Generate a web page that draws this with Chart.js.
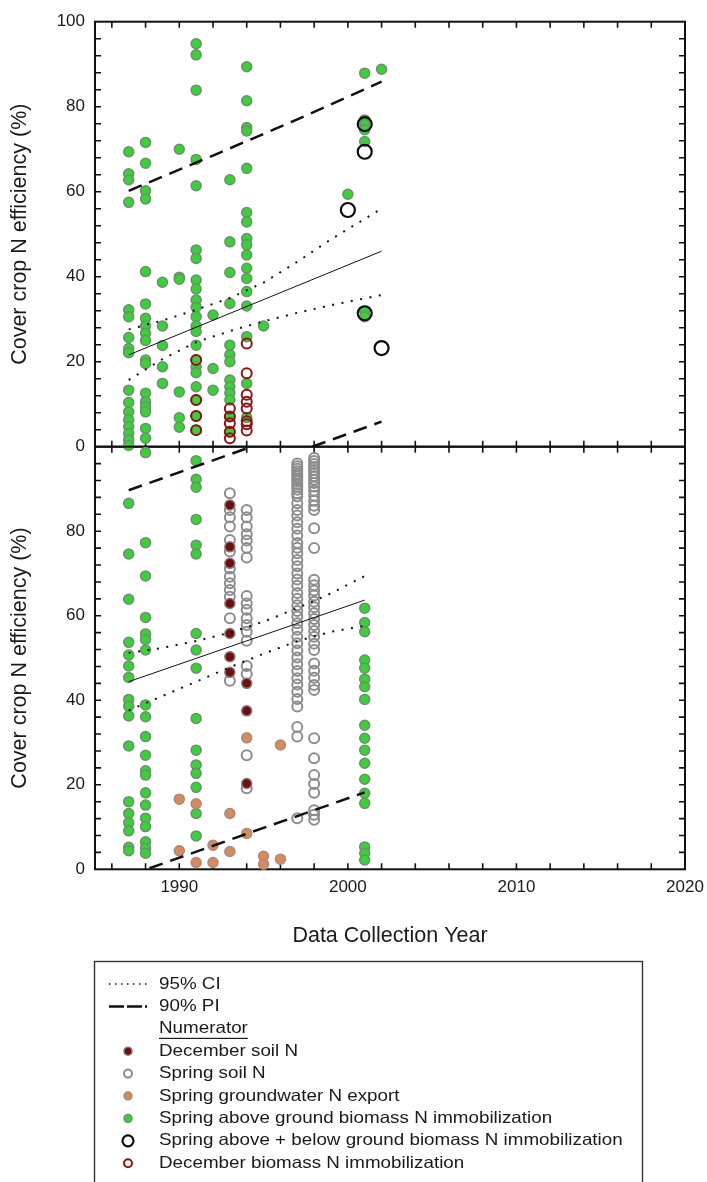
<!DOCTYPE html>
<html>
<head>
<meta charset="utf-8">
<title>Cover crop N efficiency</title>
<script src="https://cdn.jsdelivr.net/npm/chart.js@4.4.0/dist/chart.umd.min.js"></script>
<style>
  html, body { margin: 0; padding: 0; background: #ffffff; }
  #wrap { position: relative; width: 707px; height: 1182px; }
  #wrap canvas { position: absolute; left: 0; top: 0; }
</style>
</head>
<body>
<div id="wrap">
  <canvas id="upper" width="707" height="1182"></canvas>
  <canvas id="lower" width="707" height="1182"></canvas>
</div>
<script>
// ---------- axis ticks ----------
const yearLabels = [1990, 2000, 2010, 2020];
const yearTicks = [1986, 1988, 1990, 1992, 1994, 1996, 1998, 2000, 2002, 2004, 2006, 2008, 2010, 2012, 2014, 2016, 2018];
const valueTicks = [4, 8, 12, 16, 20, 24, 28, 32, 36, 40, 44, 48, 52, 56, 60, 64, 68, 72, 76, 80, 84, 88, 92, 96];

// ---------- upper panel: observations [year, values] ----------
const upAboveGround = [
  [1987, [69.4, 64.2, 62.8, 57.5, 32.2, 30.6, 25.7, 23.1, 22.1, 13.3, 10.4, 8.2, 6.3, 4.7, 3.1, 1.6, 0.3]],
  [1988, [71.6, 66.7, 60.2, 58.3, 41.2, 33.6, 30.2, 28.4, 26.7, 25.0, 20.4, 19.6, 12.6, 10.6, 9.4, 8.2, 4.3, 2.0]],
  [1989, [38.7, 28.4, 23.8, 18.8, 14.9]],
  [1990, [70.0, 39.9, 39.4, 12.9, 6.8, 4.6]],
  [1991, [94.8, 92.2, 83.9, 67.6, 61.4, 46.3, 44.3, 39.2, 37.1, 34.5, 32.8, 30.6, 28.4, 27.1, 23.9, 20.4, 18.8, 17.4, 14.1, 11.0, 7.2, 3.9]],
  [1992, [31.0, 18.4, 13.3]],
  [1993, [62.8, 48.2, 41.0, 33.7, 23.9, 21.6, 20.0, 15.7, 14.1, 12.6, 11.0, 7.1, 3.5]],
  [1994, [89.4, 81.4, 75.1, 74.3, 65.5, 55.1, 52.9, 49.0, 47.5, 45.1, 42.0, 39.6, 36.5, 33.1, 25.9, 14.9, 6.9]],
  [1995, [28.4]],
  [2000, [59.4]],
  [2001, [87.9, 76.9, 75.9, 74.6, 71.8, 31.9, 30.6]],
  [2002, [88.8]]
];
const upAboveBelow = [[2000, [55.7]], [2001, [75.9, 69.4, 31.4]], [2002, [23.2]]];
const upDecBiomass = [
  [1991, [20.4, 11.0, 7.2, 3.9]],
  [1993, [9.0, 7.1, 5.5, 3.5, 2.0]],
  [1994, [24.3, 17.3, 12.2, 10.6, 9.0, 6.0, 5.3, 3.8]]
];
// upper panel regression, 95% CI and 90% PI
const upFit = [[1987, 21.6], [2002, 46.0]];
const upCIHigh = [[1987, 27.6], [1989, 29.7], [1991, 32.2], [1993, 35.0], [1995, 38.6], [1997, 43.5], [1999, 48.8], [2002, 56.0]];
const upCILow = [[1987, 15.7], [1989, 20.6], [1991, 24.6], [1993, 27.2], [1995, 29.5], [1997, 31.5], [1999, 33.3], [2002, 35.7]];
const upPIHigh = [[1987, 60.2], [1992, 68.5], [1997, 77.0], [2002, 85.9]];
const upPILow = [[1987, -17.5], [1992, -9.5], [1997, -1.3], [2002, 5.9]];

// ---------- lower panel: observations [year, values] ----------
const loAboveGround = [
  [1987, [86.6, 74.6, 63.9, 53.7, 50.7, 48.1, 45.4, 40.2, 38.6, 36.3, 29.2, 16.0, 13.2, 11.0, 9.1, 5.2, 4.4]],
  [1988, [98.6, 77.3, 69.4, 59.6, 55.7, 54.4, 51.9, 38.9, 36.1, 31.4, 27.0, 23.3, 22.3, 18.1, 15.2, 12.1, 10.1, 6.5, 5.0, 3.8]],
  [1991, [96.7, 92.3, 90.4, 82.8, 76.7, 74.6, 55.8, 51.9, 47.6, 35.7, 28.2, 24.7, 22.7, 19.4, 13.2, 7.9]],
  [2001, [61.8, 58.4, 56.2, 49.5, 47.6, 45.0, 43.2, 40.2, 34.1, 31.0, 28.2, 25.1, 21.3, 18.0, 15.6, 5.3, 3.8, 2.2]]
];
const loGroundwater = [
  [1990, [16.6, 4.4]], [1991, [15.5, 1.6]], [1992, [5.7, 1.6]], [1993, [13.2, 4.2]],
  [1994, [31.1, 8.5]], [1995, [3.1, 1.2]], [1996, [29.4, 2.4]]
];
const loDecSoil = [
  [1993, [86.2, 76.3, 72.4, 62.9, 55.8, 50.3, 46.6]],
  [1994, [44.0, 37.5, 20.3]]
];
const loSpringSoil = [
  [1993, [89.0, 85.0, 83.3, 81.1, 77.9, 75.2, 71.2, 69.2, 67.7, 66.1, 64.5, 59.4, 44.6]],
  [1994, [85.0, 83.3, 81.1, 79.3, 77.8, 76.0, 73.8, 64.7, 62.9, 61.4, 59.4, 57.8, 56.2, 54.1, 48.1, 46.2, 27.0, 19.2]],
  [1997, [96.0, 95.4, 94.8, 94.2, 93.6, 93.0, 92.4, 91.8, 91.2, 90.5, 89.8, 89.0, 88.2, 86.6, 85.0, 83.7, 82.1, 80.6,
          79.0, 77.2, 76.1, 74.8, 73.2, 71.7, 70.0, 68.6, 67.1, 65.4, 64.0, 62.5, 61.1, 59.8, 58.2, 56.7, 55.0, 53.5,
          51.8, 50.1, 48.5, 46.9, 45.2, 43.7, 42.0, 40.3, 38.5, 33.7, 31.4, 12.1]],
  [1998, [97.3, 96.6, 95.9, 95.2, 94.5, 93.8, 93.0, 92.2, 91.4, 90.6, 89.6, 88.4, 87.2, 86.0, 85.0, 80.7, 76.0,
          68.5, 67.2, 66.0, 64.8, 63.3, 62.0, 60.6, 59.2, 57.8, 56.4, 55.0, 53.4, 51.9, 48.7, 47.0, 45.3, 43.6, 42.4,
          31.0, 26.3, 22.3, 20.2, 18.1, 14.0, 12.9, 11.7]]
];
// lower panel regression, 95% CI and 90% PI
const loFit = [[1987, 44.4], [2001, 63.7]];
const loCIHigh = [[1987, 51.2], [1989, 52.4], [1991, 54.0], [1993, 56.0], [1995, 58.6], [1997, 61.8], [1999, 65.3], [2001, 69.4]];
const loCILow = [[1987, 37.6], [1989, 41.0], [1991, 44.4], [1993, 47.8], [1995, 51.0], [1997, 54.0], [1999, 56.2], [2001, 57.6]];
const loPIHigh = [[1987, 89.7], [1994, 99.6], [2001, 109.5]];
const loPILow = [[1987, -1.5], [1994, 8.4], [2001, 18.2]];

// ---------- legend text ----------
const legendLabels = [
  '95% CI', '90% PI', 'Numerator', 'December soil N', 'Spring soil N', 'Spring groundwater N export',
  'Spring above ground biomass N immobilization', 'Spring above + below ground biomass N immobilization',
  'December biomass N immobilization'
];

// ---------- styles ----------
const FONT = "'Liberation Sans', Arial, Helvetica, sans-serif";
const INK = '#1a1a1a';
const styles = {
  decSoil:    { pointRadius: 5, pointBackgroundColor: '#6a1010', pointBorderColor: '#8f7474', pointBorderWidth: 1.5 },
  springSoil: { pointRadius: 5, pointBackgroundColor: 'rgba(0,0,0,0)', pointBorderColor: '#8c8c8c', pointBorderWidth: 2 },
  groundwater:{ pointRadius: 5, pointBackgroundColor: '#d8895e', pointBorderColor: '#a68c7c', pointBorderWidth: 1.5 },
  aboveGround:{ pointRadius: 5, pointBackgroundColor: '#3ccf3c', pointBorderColor: '#6e8e6e', pointBorderWidth: 1.5 },
  aboveBelow: { pointRadius: 7, pointBackgroundColor: 'rgba(0,0,0,0)', pointBorderColor: '#0d0d0d', pointBorderWidth: 2.2 },
  decBiomass: { pointRadius: 5, pointBackgroundColor: 'rgba(0,0,0,0)', pointBorderColor: '#8a1515', pointBorderWidth: 2 }
};
const lineStyles = {
  fit: { borderColor: '#111', borderWidth: 1, borderDash: [] },
  ci:  { borderColor: '#111', borderWidth: 2, borderDash: [2, 7.5] },
  pi:  { borderColor: '#111', borderWidth: 2.5, borderDash: [14, 8] }
};

function toPoints(groups) {
  const out = [];
  for (const [year, vals] of groups) for (const v of vals) out.push({ x: year, y: v });
  return out;
}
function toLine(pairs) { return pairs.map(([x, y]) => ({ x, y })); }
function markerSet(label, groups, style, order) {
  return Object.assign({ label, data: toPoints(groups), showLine: false, order, clip: false,
    pointHoverRadius: style.pointRadius }, style);
}
function lineSet(label, pairs, style) {
  return Object.assign({ label, data: toLine(pairs), showLine: true, pointRadius: 0, pointHoverRadius: 0,
    fill: false, tension: 0, order: 0, borderCapStyle: 'butt' }, style);
}

// frame with inward tick marks on all four sides
const framePlugin = {
  id: 'frame',
  beforeDatasetsDraw(chart) {
    const { ctx, chartArea: a, scales } = chart;
    const xs = scales.x, ys = scales.y;
    ctx.save();
    ctx.strokeStyle = '#111';
    ctx.lineWidth = 2;
    ctx.strokeRect(a.left, a.top, a.right - a.left, a.bottom - a.top);
    ctx.lineWidth = 1.6;
    ctx.beginPath();
    for (const yr of yearTicks) {
      const px = xs.getPixelForValue(yr);
      ctx.moveTo(px, a.top); ctx.lineTo(px, a.top + 6);
      ctx.moveTo(px, a.bottom); ctx.lineTo(px, a.bottom - 6);
    }
    for (const v of valueTicks) {
      const py = ys.getPixelForValue(v);
      ctx.moveTo(a.left, py); ctx.lineTo(a.left + 6, py);
      ctx.moveTo(a.right, py); ctx.lineTo(a.right - 6, py);
    }
    ctx.stroke();
    ctx.restore();
  }
};

// boxed key below the panels
const keyPlugin = {
  id: 'keyBox',
  afterDraw(chart) {
    const ctx = chart.ctx;
    const boxL = 94.5, boxT = 961.5, boxR = 642.5;
    const markX = 128, textX = 159, row0 = 984, rowStep = 22.4, stretch = 1.14;
    ctx.save();
    ctx.strokeStyle = '#333';
    ctx.lineWidth = 1.4;
    ctx.strokeRect(boxL, boxT, boxR - boxL, 260);

    const marks = [
      { kind: 'line', dash: [1.5, 4.5], width: 1.6 },
      { kind: 'line', dash: [15, 3], width: 2.5 },
      { kind: 'header' },
      { kind: 'point', s: styles.decSoil, r: 4 },
      { kind: 'point', s: styles.springSoil, r: 4 },
      { kind: 'point', s: styles.groundwater, r: 4 },
      { kind: 'point', s: styles.aboveGround, r: 4 },
      { kind: 'point', s: styles.aboveBelow, r: 5.5 },
      { kind: 'point', s: styles.decBiomass, r: 4 }
    ];
    ctx.font = '16.5px ' + FONT;
    ctx.textBaseline = 'middle';
    marks.forEach((m, i) => {
      const y = row0 + i * rowStep;
      if (m.kind === 'line') {
        ctx.save();
        ctx.strokeStyle = '#111'; ctx.lineWidth = m.width; ctx.setLineDash(m.dash);
        ctx.beginPath(); ctx.moveTo(109, y); ctx.lineTo(147, y); ctx.stroke();
        ctx.restore();
      } else if (m.kind === 'point') {
        ctx.save();
        ctx.beginPath(); ctx.arc(markX, y, m.r, 0, Math.PI * 2);
        ctx.fillStyle = m.s.pointBackgroundColor; ctx.fill();
        ctx.strokeStyle = m.s.pointBorderColor; ctx.lineWidth = m.s.pointBorderWidth; ctx.stroke();
        ctx.restore();
      }
      ctx.save();
      ctx.translate(textX, y);
      ctx.scale(stretch, 1);
      ctx.fillStyle = INK;
      ctx.fillText(legendLabels[i], 0, 0);
      if (m.kind === 'header') {
        const w = ctx.measureText(legendLabels[i]).width;
        ctx.fillRect(0, 9, w, 1.2);
      }
      ctx.restore();
    });
    ctx.restore();
  }
};

const tickFont = { family: FONT, size: 17 };
const titleFont = { family: FONT, size: 21.5 };

function panelOptions(isLower) {
  return {
    responsive: false,
    animation: false,
    events: [],
    layout: { padding: isLower
      ? { top: 446.7, right: 22, bottom: 1182 - 869.3 - 90, left: 0 }
      : { top: 21.7, right: 22, bottom: 1182 - 446.7, left: 0 } },
    plugins: { legend: { display: false }, tooltip: { enabled: false } },
    scales: {
      x: {
        type: 'linear', min: 1985, max: 2020,
        display: isLower,
        afterFit(s) {
          if (isLower) s.height = 90;
          // the end labels fit inside the layout padding
          s.paddingLeft = 0; s.paddingRight = 0;
        },
        afterBuildTicks(s) { s.ticks = yearLabels.map(v => ({ value: v })); },
        grid: { display: false, drawTicks: false },
        border: { display: false },
        ticks: { font: tickFont, color: INK, padding: 8, maxRotation: 0, autoSkip: false,
                 callback: v => String(v) },
        title: { display: true, text: 'Data Collection Year', font: titleFont, color: INK,
                 padding: { top: 0, bottom: 10.4 } }
      },
      y: {
        type: 'linear', min: 0, max: 100,
        afterFit(s) { s.width = 95; s.paddingTop = 0; s.paddingBottom = 0; },
        grid: { display: false, drawTicks: false },
        border: { display: false },
        ticks: { stepSize: 20, font: tickFont, color: INK, padding: 10,
                 callback: v => (isLower && v === 100) ? '' : String(v) },
        title: { display: true, text: 'Cover crop N efficiency (%)', font: titleFont, color: INK,
                 padding: { top: 7, bottom: 0 } }
      }
    }
  };
}

new Chart(document.getElementById('upper'), {
  type: 'scatter',
  data: {
    datasets: [
      lineSet('fit', upFit, lineStyles.fit),
      lineSet('95% CI upper', upCIHigh, lineStyles.ci),
      lineSet('95% CI lower', upCILow, lineStyles.ci),
      lineSet('90% PI upper', upPIHigh, lineStyles.pi),
      lineSet('90% PI lower', upPILow, lineStyles.pi),
      markerSet('Spring above + below ground biomass N immobilization', upAboveBelow, styles.aboveBelow, 1),
      markerSet('December biomass N immobilization', upDecBiomass, styles.decBiomass, 2),
      markerSet('Spring above ground biomass N immobilization', upAboveGround, styles.aboveGround, 3)
    ]
  },
  options: panelOptions(false),
  plugins: [framePlugin]
});

new Chart(document.getElementById('lower'), {
  type: 'scatter',
  data: {
    datasets: [
      lineSet('fit', loFit, lineStyles.fit),
      lineSet('95% CI upper', loCIHigh, lineStyles.ci),
      lineSet('95% CI lower', loCILow, lineStyles.ci),
      lineSet('90% PI upper', loPIHigh, lineStyles.pi),
      lineSet('90% PI lower', loPILow, lineStyles.pi),
      markerSet('December soil N', loDecSoil, styles.decSoil, 1),
      markerSet('Spring soil N', loSpringSoil, styles.springSoil, 2),
      markerSet('Spring groundwater N export', loGroundwater, styles.groundwater, 3),
      markerSet('Spring above ground biomass N immobilization', loAboveGround, styles.aboveGround, 4)
    ]
  },
  options: panelOptions(true),
  plugins: [framePlugin, keyPlugin]
});
</script>
</body>
</html>
